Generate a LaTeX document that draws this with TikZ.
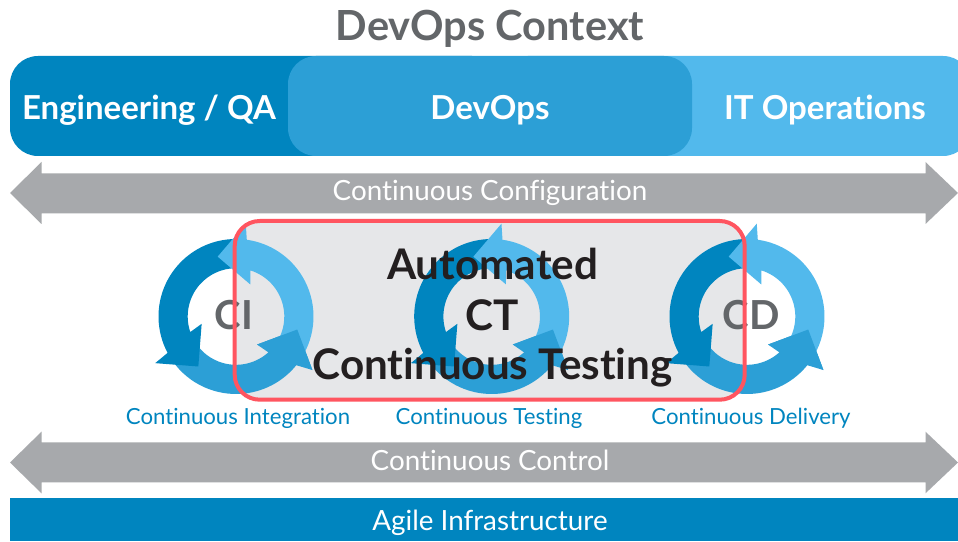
\documentclass[tikz,border=0pt]{standalone}
\usepackage{fontspec}
\setmainfont{Lato}[Ligatures=NoCommon]
\definecolor{cdark}{HTML}{0085BF}
\definecolor{cmid}{HTML}{2C9FD6}
\definecolor{clight}{HTML}{52B9EC}
\definecolor{cgray}{HTML}{A7A9AC}
\definecolor{cfill}{HTML}{E6E7E9}
\definecolor{cred}{HTML}{FF5560}
\definecolor{ctitle}{HTML}{636669}
\definecolor{cink}{HTML}{231F20}
\newcommand{\ringtail}[1]{(#1:77.5) arc[start angle=#1,end angle=208,radius=77.5] -- (210:93.3) -- (233:62.6) -- (192:35.1) -- (198.8:48.3) arc[start angle=198.8,end angle=#1,radius=48.3] -- cycle}
\newcommand{\ringhead}{(200:62) -- (210:93.3) -- (233:62.6) -- (192:35.1) -- cycle}
\newcommand{\ringat}[2]{%
  \begin{scope}[shift={(#1,#2)}]
    \fill[cmid,rotate=115] \ringtail{97};
    \fill[cdark] \ringtail{91};
    \fill[clight,rotate=-126] \ringtail{97};
    \fill[cmid,rotate=115] \ringhead;
  \end{scope}}
\tikzset{
  band/.style={anchor=center,text=white,inner sep=0pt},
  bigband/.style={band,font=\fontsize{33}{33}\selectfont\bfseries},
  barlabel/.style={band,font=\fontsize{27.8}{28}\selectfont},
  caplabel/.style={anchor=center,inner sep=0pt,text=cdark,font=\fontsize{22.2}{23}\selectfont},
  ringlabel/.style={anchor=center,inner sep=0pt,text=ctitle,font=\fontsize{40}{40}\selectfont\bfseries},
  ctlabel/.style={anchor=center,inner sep=0pt,text=cink,font=\fontsize{42.2}{43}\selectfont\bfseries},
  greybar/.style={fill=cgray}
}
\begin{document}
\begin{tikzpicture}[x=1pt,y=1pt]
\useasboundingbox (0,0) rectangle (958,541);
\fill[white] (0,0) rectangle (958,541);
\node[anchor=center,inner sep=0pt,text=ctitle,font=\fontsize{41.5}{42}\selectfont\bfseries] (title) at (490,512.5) {DevOps Context};
% top band
\begin{scope}
\clip (0,0) rectangle (958,541);
\fill[clight,rounded corners=28pt] (500,385) rectangle (971,485);
\fill[cdark,rounded corners=28pt] (10,385) rectangle (500,485);
\fill[cmid,rounded corners=28pt] (288,385) rectangle (692,485);
\end{scope}
\node[bigband] (eng) at (149,430.5) {Engineering / QA};
\node[bigband] (dev) at (490,430.5) {DevOps};
\node[bigband] (ops) at (825,430.5) {IT Operations};
% bars
\fill[greybar] (10,348) -- (41.5,379) -- (41.5,367.7) -- (925.5,367.7) -- (925.5,379) -- (958,348) -- (925.5,317) -- (925.5,327.7) -- (41.5,327.7) -- (41.5,317) -- cycle;
\node[barlabel] (cc) at (490,348) {Continuous Configuration};
\fill[greybar] (10,78.5) -- (41.5,109.3) -- (41.5,98.7) -- (925.5,98.7) -- (925.5,109.3) -- (958,78.5) -- (925.5,47.7) -- (925.5,58.7) -- (41.5,58.7) -- (41.5,47.7) -- cycle;
\node[barlabel] (cctl) at (490,80.5) {Continuous Control};
\fill[cdark] (10,0) rectangle (958,43.3);
\node[barlabel] (agile) at (490,18) {Agile Infrastructure};
% box
\fill[cfill,rounded corners=25pt] (234.7,141.3) rectangle (744.7,320);
\ringat{236}{224.5}
\ringat{491.7}{224.5}
\ringat{747}{224.5}
\node[ringlabel] (ci) at (234,226) {CI};
\node[ringlabel] (cd) at (751,226) {CD};
\draw[cred,line width=4pt,rounded corners=25pt] (234.7,141.3) rectangle (744.7,320);
\node[ctlabel] (auto) at (492.5,277) {Automated};
\node[ctlabel] (ct) at (492.5,226) {CT};
\node[ctlabel] (ctest) at (492.5,173.5) {Continuous Testing};
\node[caplabel] (l1) at (238,122.5) {Continuous Integration};
\node[caplabel] (l2) at (489,122.5) {Continuous Testing};
\node[caplabel] (l3) at (751,122.5) {Continuous Delivery};
\end{tikzpicture}
\end{document}
